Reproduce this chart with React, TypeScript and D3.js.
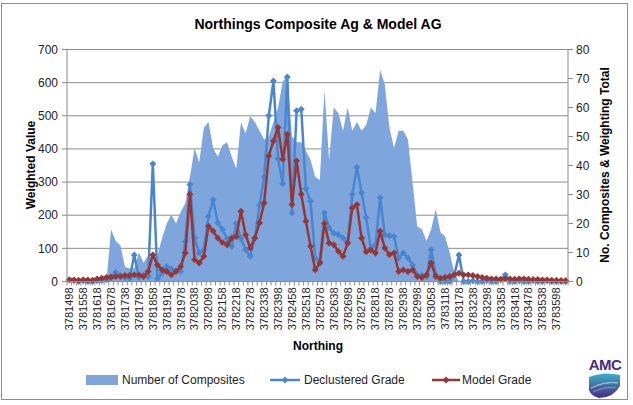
import React from 'react';
import * as d3 from 'd3';

// category axis: northing (20 m steps)
const northings = [
  3781498, 3781518, 3781538, 3781558, 3781578, 3781598, 3781618, 3781638, 3781658, 3781678,
  3781698, 3781718, 3781738, 3781758, 3781778, 3781798, 3781818, 3781838, 3781858, 3781878,
  3781898, 3781918, 3781938, 3781958, 3781978, 3781998, 3782018, 3782038, 3782058, 3782078,
  3782098, 3782118, 3782138, 3782158, 3782178, 3782198, 3782218, 3782238, 3782258, 3782278,
  3782298, 3782318, 3782338, 3782358, 3782378, 3782398, 3782418, 3782438, 3782458, 3782478,
  3782498, 3782518, 3782538, 3782558, 3782578, 3782598, 3782618, 3782638, 3782658, 3782678,
  3782698, 3782718, 3782738, 3782758, 3782778, 3782798, 3782818, 3782838, 3782858, 3782878,
  3782898, 3782918, 3782938, 3782958, 3782978, 3782998, 3783018, 3783038, 3783058, 3783078,
  3783098, 3783118, 3783138, 3783158, 3783178, 3783198, 3783218, 3783238, 3783258, 3783278,
  3783298, 3783318, 3783338, 3783358, 3783378, 3783398, 3783418, 3783438, 3783458, 3783478,
  3783498, 3783518, 3783538, 3783558, 3783578, 3783598, 3783618, 3783638,
];

// right axis: number of composites
const composites = [
  0, 0, 0, 0, 0, 0, 0, 0, 0, 18,
  14, 12.5, 5, 4.5, 4.5, 10, 6.5, 9, 8, 9,
  15, 20, 23, 20, 24, 27, 36, 46, 41, 53,
  55, 46, 43, 47, 48, 43, 39, 55, 51, 57,
  55, 52, 49, 50, 55, 60, 69, 71, 50, 48,
  48, 45, 42, 36, 35, 66, 42, 60, 58, 52,
  60, 52, 55, 52, 54, 60, 58, 73, 68, 53,
  46, 52, 52, 49, 34, 19, 18, 14, 18, 25,
  17, 15.5, 10, 3, 0, 0, 0, 0, 0, 0,
  0, 0, 0, 0, 0, 0, 0, 0, 0, 0,
  0, 0, 0, 0, 0, 0, 0, 0,
];

// left axis: declustered grade
const declustered = [
  5, 3, 0, 2, 0, 0, 2, 3, 5, 10,
  28, 18, 12, 10, 80, 12, 20, 15, 355, 8,
  25, 45, 38, 32, 30, 121, 293, 131, 86, 95,
  197, 247, 177, 157, 130, 106, 175, 130, 96, 76,
  131, 230, 315, 500, 605, 370, 295, 617, 207, 515,
  520, 280, 242, 71, 60, 207, 162, 146, 141, 131,
  116, 263, 345, 268, 192, 101, 110, 253, 141, 138,
  136, 71, 86, 71, 50, 20, 18, 15, 96, 20,
  0, 0, 0, 20, 80, 0, 0, 2, 0, 0,
  3, 0, 0, 5, 20, 0, 0, 2, 0, 0,
  3, 0, 0, 2, 0, 0, 0, 0,
];

// left axis: model grade
const modelGrade = [
  5, 5, 4, 5, 5, 4, 8, 10, 12, 14,
  15, 15, 18, 18, 20, 20, 15, 30, 80, 50,
  35, 30, 20, 30, 45, 86, 263, 66, 56, 76,
  167, 152, 131, 118, 111, 131, 136, 212, 141, 101,
  131, 177, 237, 379, 424, 465, 369, 444, 232, 364,
  263, 182, 106, 35, 56, 175, 116, 111, 91, 76,
  116, 222, 232, 131, 90, 95, 86, 152, 101, 81,
  86, 30, 35, 30, 35, 15, 12, 20, 56, 15,
  10, 12, 15, 20, 25, 20, 20, 18, 15, 12,
  10, 8, 8, 7, 8, 8, 7, 8, 8, 7,
  6, 6, 5, 5, 4, 4, 3, 3,
];

const leftTicks = [0, 100, 200, 300, 400, 500, 600, 700];
const rightTicks = [0, 10, 20, 30, 40, 50, 60, 70, 80];
const labelEvery = 3;

const font = '"Liberation Sans", Arial, sans-serif';
const areaColor = '#7fa6dc';
const blue = '#4a86d0';
const red = '#953735';
const grid = '#8c8c8c';

const plot = { left: 67, right: 568, top: 49.5, bottom: 281.5 };

const diamond = d3.symbol(d3.symbolSquare, 24)() as string;

export default function App() {
  const x = d3.scaleBand<number>().domain(northings).range([plot.left, plot.right]);
  const cx = (i: number) => (x(northings[i]) as number) + x.bandwidth() / 2;
  const yL = d3.scaleLinear().domain([0, 700]).range([plot.bottom, plot.top]);
  const yR = d3.scaleLinear().domain([0, 80]).range([plot.bottom, plot.top]);

  const area = d3.area<number>()
    .x((_, i) => cx(i))
    .y0(yR(0))
    .y1((d) => yR(d));
  const line = d3.line<number>()
    .x((_, i) => cx(i))
    .y((d) => yL(d));

  const tickLabels = northings.filter((_, i) => i % labelEvery === 0);

  const markers = (vals: number[], color: string) =>
    vals.map((v, i) => (
      <path key={i} d={diamond} transform={`translate(${cx(i)},${yL(v)}) rotate(45)`} fill={color} />
    ));

  return (
    <svg width={633} height={405} style={{ position: 'absolute', left: 0, top: 0, fontFamily: font }}>
      <rect x={0} y={0} width={633} height={405} fill="#fff" />
      <rect x={1.5} y={3.5} width={626} height={396} fill="none" stroke="#8c8c8c" />

      <text x={318} y={29} textAnchor="middle" fontSize={14} fontWeight="bold" fill="#000">
        Northings Composite Ag &amp; Model AG
      </text>

      {/* gridlines */}
      {leftTicks.map((t) => (
        <line key={t} x1={plot.left} x2={plot.right} y1={yL(t)} y2={yL(t)} stroke={grid} />
      ))}

      {/* composites area on secondary axis */}
      <path d={area(composites) as string} fill={areaColor} />

      {/* declustered grade */}
      <path d={line(declustered) as string} fill="none" stroke={blue} strokeWidth={2.5} strokeLinejoin="round" />
      {markers(declustered, blue)}

      {/* model grade */}
      <path d={line(modelGrade) as string} fill="none" stroke={red} strokeWidth={2.5} strokeLinejoin="round" />
      {markers(modelGrade, red)}

      {/* axes */}
      <line x1={plot.left} x2={plot.left} y1={plot.top} y2={plot.bottom} stroke={grid} />
      <line x1={plot.right} x2={plot.right} y1={plot.top} y2={plot.bottom} stroke={grid} />
      <line x1={plot.left} x2={plot.right} y1={plot.bottom} y2={plot.bottom} stroke={grid} />

      {leftTicks.map((t) => (
        <g key={t}>
          <line x1={plot.left - 5} x2={plot.left} y1={yL(t)} y2={yL(t)} stroke={grid} />
          <text x={58} y={yL(t)} dy="0.35em" textAnchor="end" fontSize={12} fill="#222">{t}</text>
        </g>
      ))}
      {rightTicks.map((t) => (
        <g key={t}>
          <line x1={plot.right} x2={plot.right + 5} y1={yR(t)} y2={yR(t)} stroke={grid} />
          <text x={576} y={yR(t)} dy="0.35em" textAnchor="start" fontSize={12} fill="#222">{t}</text>
        </g>
      ))}
      {northings.map((n, i) => (
        <line key={n} x1={x(n) as number} x2={x(n) as number} y1={plot.bottom} y2={plot.bottom + 4} stroke={grid} />
      ))}
      <line x1={plot.right} x2={plot.right} y1={plot.bottom} y2={plot.bottom + 4} stroke={grid} />
      {tickLabels.map((n) => {
        const px = (x(n) as number) + x.bandwidth() / 2;
        return (
          <text key={n} transform={`translate(${px},${plot.bottom + 6}) rotate(-90)`} dy="0.35em"
            textAnchor="end" fontSize={11} fill="#222">{n}</text>
        );
      })}

      {/* axis titles */}
      <text transform="translate(31,165) rotate(-90)" textAnchor="middle" dy="0.35em" fontSize={12} fontWeight="bold">
        Weighted Value
      </text>
      <text transform="translate(605,165) rotate(-90)" textAnchor="middle" dy="0.35em" fontSize={12} fontWeight="bold">
        No. Composites &amp; Weighting Total
      </text>
      <text x={318} y={350} textAnchor="middle" fontSize={12} fontWeight="bold">Northing</text>

      {/* legend */}
      <rect x={86} y={375} width={32} height={10} fill={areaColor} />
      <text x={122} y={384} fontSize={12} fill="#222">Number of Composites</text>
      <line x1={270} x2={300} y1={380} y2={380} stroke={blue} strokeWidth={2.5} />
      <path d={diamond} transform="translate(285,380) rotate(45)" fill={blue} />
      <text x={304} y={384} fontSize={12} fill="#222">Declustered Grade</text>
      <line x1={432} x2={460} y1={380} y2={380} stroke={red} strokeWidth={2.5} />
      <path d={diamond} transform="translate(446,380) rotate(45)" fill={red} />
      <text x={462} y={384} fontSize={12} fill="#222">Model Grade</text>

      {/* AMC logo */}
      <defs>
        <linearGradient id="amcGrad" x1="0" y1="0" x2="0" y2="1">
          <stop offset="0" stopColor="#3bb3c6" />
          <stop offset="1" stopColor="#4b2a84" />
        </linearGradient>
      </defs>
      <text x={605} y={370} textAnchor="middle" fontSize={15} fontWeight="bold" fill="#4b2a84"
        style={{ letterSpacing: '-0.5px' }}>AMC</text>
      <path d="M589,377 Q604,371 620,375 L620,386 Q613,398 599,398 Q591,396 589,390 Z" fill="url(#amcGrad)" />
      <path d="M591,388 Q605,381 618,383" fill="none" stroke="#fff" strokeWidth={0.8} opacity={0.8} />
      <path d="M593,392 Q606,386 616,388" fill="none" stroke="#fff" strokeWidth={0.6} opacity={0.6} />
    </svg>
  );
}
